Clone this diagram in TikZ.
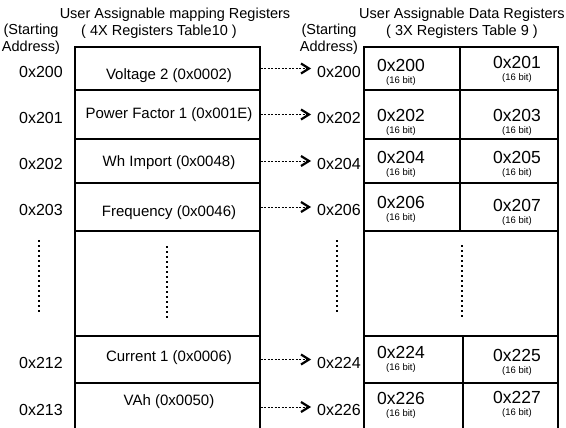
\documentclass[tikz,border=0pt]{standalone}
\usepackage{fontspec}
\setmainfont{Liberation Sans}
\usetikzlibrary{arrows.meta}

\tikzset{
  regbox/.style={draw, line width=1.1pt, inner sep=0pt},
  head/.style={font=\fontsize{14.5}{17.5}\selectfont, inner sep=0pt},
  addr/.style={font=\fontsize{16}{18}\selectfont, inner sep=0pt},
  regtext/.style={font=\fontsize{15}{18}\selectfont, inner sep=0pt},
  cellnum/.style={font=\fontsize{17.5}{20}\selectfont, inner sep=0pt},
  bits/.style={font=\fontsize{9.5}{11}\selectfont, inner sep=0pt},
  maparrow/.style={line width=0.8pt, dash pattern=on 2pt off 1.5pt},
  chevron/.style={line width=2.2pt, line join=miter},
  vdots/.style={line width=1.3pt, dash pattern=on 2pt off 3pt}
}

\begin{document}
\begin{tikzpicture}[x=1pt,y=-1pt]
  \useasboundingbox (0,0) rectangle (566,428);

  % headings
  \node[head] (lhead) at (175,15) {User Assignable mapping Registers};
  \node[head] (ltab) at (159,32) {( 4X Registers Table10 )};
  \node[head, align=center] (lstart) at (31,39) {(Starting\\Address)};
  \node[head] (rhead) at (462,15) {User Assignable Data Registers};
  \node[head] (rtab) at (462,32) {( 3X Registers Table 9 )};
  \node[head, align=center] (rstart) at (329,39) {(Starting\\Address)};

  % 4X mapping registers and their arrows
  \foreach \n/\yt/\yb/\ty/\al/\ar/\lab in {
      1/47/90/76/200/200/{Voltage 2 (0x0002)},
      2/90/139/115/201/202/{Power Factor 1 (0x001E)},
      3/139/183/163/202/204/{Wh Import (0x0048)},
      4/183/231/213/203/206/{Frequency (0x0046)},
      5/336/383/358/212/224/{Current 1 (0x0006)},
      6/383/431/402/213/226/{VAh (0x0050)}}
  {
    \node[regbox, minimum width=185pt, minimum height={(\yb-\yt)*1pt}]
      (m\n) at (167.5,{(\yt+\yb)/2}) {};
    \node[regtext] (t\n) at (169,\ty) {\lab};
    \node[addr] (la\n) at (41,{(\yt+\yb)/2+3}) {0x\al};
    \node[addr, anchor=west] (ra\n) at (317,{(\yt+\yb)/2+3}) {0x\ar};
    \draw[maparrow] (m\n.east) -- ([xshift=-8pt]m\n.east -| ra\n.west);
    \draw[chevron] ([xshift=-16pt,yshift=5pt]m\n.east -| ra\n.west)
      -- ([xshift=-8pt]m\n.east -| ra\n.west)
      -- ([xshift=-16pt,yshift=-5pt]m\n.east -| ra\n.west);
  }
  \node[regbox, minimum width=185pt, minimum height=105pt] (mgap) at (167.5,283.5) {};

  % 3X data registers
  \foreach \n/\yt/\yb/\xm/\a/\ay/\b/\by in {
      1/47/90/460/200/65/201/62,
      2/90/139/460/202/115/203/115,
      3/139/183/460/204/157/205/157,
      4/183/231/460/206/202/207/205,
      5/336/383/463/224/352/225/355,
      6/383/431/463/226/398/227/397}
  {
    \node[regbox, minimum width={(\xm-364)*1pt}, minimum height={(\yb-\yt)*1pt}]
      (d\n a) at ({(364+\xm)/2},{(\yt+\yb)/2}) {};
    \node[regbox, minimum width={(558-\xm)*1pt}, minimum height={(\yb-\yt)*1pt}]
      (d\n b) at ({(558+\xm)/2},{(\yt+\yb)/2}) {};
    \node[cellnum] (n\n a) at (401,\ay) {0x\a};
    \node[bits] (s\n a) at (401,\ay+16) {(16 bit)};
    \node[cellnum] (n\n b) at (517,\by) {0x\b};
    \node[bits] (s\n b) at (517,\by+16) {(16 bit)};
  }
  \node[regbox, minimum width=194pt, minimum height=105pt] (dgap) at (461,283.5) {};

  % continuation dots
  \draw[vdots] (39,240) -- (39,312);
  \draw[vdots] (167,246) -- (167,318);
  \draw[vdots] (337,240) -- (337,312);
  \draw[vdots] (462,245) -- (462,317);
\end{tikzpicture}
\end{document}
